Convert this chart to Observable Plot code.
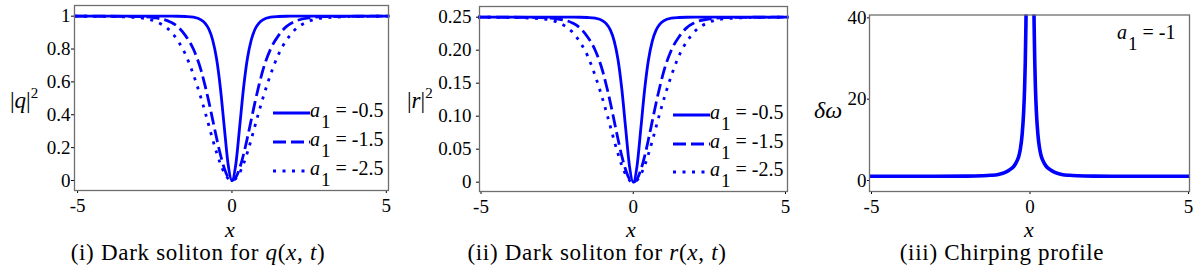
<!DOCTYPE html>
<html><head><meta charset="utf-8">
<script src="https://cdn.jsdelivr.net/npm/d3@7"></script>
<script src="https://cdn.jsdelivr.net/npm/@observablehq/plot@0.6"></script>
<style>
body{margin:0;background:#fff;}
#root{position:relative;width:1200px;height:272px;overflow:hidden;font-family:"Liberation Serif",serif;color:#000;background:#fff;}
#root svg, #root svg text{font-family:"Liberation Serif",serif !important;}
.pl{position:absolute;top:0;}
.t{position:absolute;white-space:nowrap;line-height:1;font-family:"Liberation Serif",serif;}
.i{font-style:italic;font-family:"Liberation Serif",serif;}
.cap{letter-spacing:0.7px;}
.leg{position:absolute;white-space:nowrap;font-size:20px;line-height:1;height:24px;font-family:"Liberation Serif",serif;}
.leg svg{vertical-align:top;}
.sub{position:relative;top:11px;font-size:19px;margin-left:1px;font-family:"Liberation Serif",serif;}
</style></head><body><div id="root"></div>
<script>
// ---- data ----
const xGrid = [-5.1,-4,-3,-2.5,-2,-1.75,-1.5,-1.25,-1,-0.875,-0.75,-0.625,-0.5,-0.375,-0.25,-0.125,0,0.125,0.25,0.375,0.5,0.625,0.75,0.875,1,1.25,1.5,1.75,2,2.5,3,4,5.1];
const qSolid  = [1,1,1,1,1,0.9996,0.998,0.994,0.978,0.958,0.922,0.855,0.742,0.563,0.327,0.099,0,0.099,0.327,0.563,0.742,0.855,0.922,0.958,0.978,0.994,0.998,0.9996,1,1,1,1,1];
const qDashed = [1,0.9995,0.997,0.99,0.965,0.935,0.88,0.80,0.67,0.58,0.48,0.37,0.26,0.158,0.075,0.019,0,0.019,0.075,0.158,0.26,0.37,0.48,0.58,0.67,0.80,0.88,0.935,0.965,0.99,0.997,0.9995,1];
const qDotted = [1,0.998,0.99,0.97,0.91,0.85,0.765,0.645,0.5,0.42,0.335,0.25,0.171,0.1015,0.047,0.012,0,0.012,0.047,0.1015,0.171,0.25,0.335,0.42,0.5,0.645,0.765,0.85,0.91,0.97,0.99,0.998,1];
const rSolid  = [0.25,0.25,0.25,0.25,0.25,0.2499,0.2495,0.2485,0.2445,0.2395,0.2305,0.2138,0.1855,0.1408,0.0818,0.0248,0,0.0248,0.0818,0.1408,0.1855,0.2138,0.2305,0.2395,0.2445,0.2485,0.2495,0.2499,0.25,0.25,0.25,0.25,0.25];
const rDashed = [0.25,0.2499,0.2493,0.2475,0.2413,0.2338,0.22,0.2,0.1675,0.145,0.12,0.0925,0.065,0.0395,0.0188,0.0048,0,0.0048,0.0188,0.0395,0.065,0.0925,0.12,0.145,0.1675,0.2,0.22,0.2338,0.2413,0.2475,0.2493,0.2499,0.25];
const rDotted = [0.25,0.2495,0.2475,0.2425,0.2275,0.2125,0.1913,0.1613,0.125,0.105,0.0838,0.0625,0.0428,0.0254,0.0118,0.003,0,0.003,0.0118,0.0254,0.0428,0.0625,0.0838,0.105,0.125,0.1613,0.1913,0.2125,0.2275,0.2425,0.2475,0.2495,0.25];
const chirpX = [-5.06,-4,-3,-2,-1.5,-1.25,-1,-0.8,-0.65,-0.5,-0.4,-0.35,-0.3,-0.25,-0.2,-0.17,-0.15,-0.13,-0.12,0.12,0.13,0.15,0.17,0.2,0.25,0.3,0.35,0.4,0.5,0.65,0.8,1,1.25,1.5,2,3,4,5.03];
const chirpY = [1.05,1.05,1.05,1.08,1.17,1.28,1.5,1.95,2.6,3.6,5.0,6.1,8.0,11.2,17.0,23,29,38,44,44,38,29,23,17.0,11.2,8.0,6.1,5.0,3.6,2.6,1.95,1.5,1.28,1.17,1.08,1.05,1.05,1.05];
const a1Values = ["-0.5","-1.5","-2.5"];
const chirpA1 = "-1";
const xTicks = [-5,0,5];
const qTicks = [0,0.2,0.4,0.6,0.8,1];
const qTickLabels = ["0","0.2","0.4","0.6","0.8","1"];
const rTicks = [0,0.05,0.1,0.15,0.2,0.25];
const rTickLabels = ["0","0.05","0.10","0.15","0.20","0.25"];
const wTicks = [0,20,40];
const wTickLabels = ["0","20","40"];
const captions = ["(i) Dark soliton for ", "(ii) Dark soliton for ", "(iii) Chirping profile"];

// ---- styles ----
const BLUE = "#0000ff";
const dashes = [null, "13,5", "3,6.5"];
const root = document.getElementById("root");

function rows(ys){ return xGrid.map((x,i)=>({x, y: ys[i]})); }

function makePlot(o){
  const fmt = new Map(o.yTicks.map((t,i)=>[t, o.yLabels[i]]));
  const svg = Plot.plot({
    width: 400, height: 272,
    marginLeft: o.m[0], marginRight: o.m[1], marginTop: o.m[2], marginBottom: o.m[3],
    x: {domain: o.xd, ticks: xTicks, tickFormat: d => String(d), tickSize: 3, tickPadding: 5, label: null},
    y: {domain: o.yd, ticks: o.yTicks, tickFormat: d => fmt.get(d), tickSize: o.yts, tickPadding: o.ytp, label: null},
    style: {fontFamily: "'Liberation Serif', serif", fontSize: "19px", background: "transparent", color: "#000", overflow: "visible"},
    marks: [...o.marks, Plot.frame({stroke: "#6e6e6e", strokeWidth: 1.3})]
  });
  svg.classList.add("pl");
  svg.style.left = o.left + "px";
  root.appendChild(svg);
}

function solitonMarks(arrs){
  return arrs.map((a,k)=>Plot.line(rows(a), {x:"x", y:"y", stroke: BLUE, strokeWidth: 2.8,
    strokeDasharray: dashes[k] || undefined, strokeLinecap: "butt", curve: "monotone-x"}));
}

makePlot({left:0, m:[74,12,5,82], xd:[-5.1,5.07], yd:[-0.061,1.065], yTicks:qTicks, yLabels:qTickLabels, yts:3, ytp:1,
  marks: solitonMarks([qSolid,qDashed,qDotted])});
makePlot({left:400, m:[79,13,6,81], xd:[-5.05,5.066], yd:[-0.0141,0.2662], yTicks:rTicks, yLabels:rTickLabels, yts:3, ytp:5,
  marks: solitonMarks([rSolid,rDashed,rDotted])});
const chirpRows = chirpX.map((x,i)=>({x, y: chirpY[i], branch: x < 0 ? "L" : "R"}));
makePlot({left:800, m:[69,11,14.5,81], xd:[-5.063,5.03], yd:[-2.7,40.7], yTicks:wTicks, yLabels:wTickLabels, yts:2, ytp:1,
  marks: [Plot.line(chirpRows, {x:"x", y:"y", z:"branch", stroke: BLUE, strokeWidth: 3.6, curve:"monotone-x", clip: true})]});

// ---- HTML text ----
function addText(html, left, top, size, cls){
  const d = document.createElement("div");
  d.className = "t" + (cls ? " " + cls : "");
  d.innerHTML = html;
  d.style.left = left + "px"; d.style.top = top + "px"; d.style.fontSize = size + "px";
  root.appendChild(d);
  return d;
}
function centered(html, cx, top, size, cls){
  const d = addText(html, cx, top, size, cls);
  d.style.transform = "translateX(-50%)";
}
// y titles
addText('|<span class="i">q</span>|<sup style="font-size:15px;position:relative;top:-3px;vertical-align:top">2</sup>', 10, 89, 23);
addText('|<span class="i">r</span>|<sup style="font-size:15px;position:relative;top:-3px;vertical-align:top">2</sup>', 407, 89, 23);
addText('<span class="i">δω</span>', 814, 98, 24);
// x titles
centered('<span class="i">x</span>', 230, 219, 22);
centered('<span class="i">x</span>', 631, 219, 22);
centered('<span class="i">x</span>', 1029, 219, 22);
// captions
centered(captions[0] + '<span class="i">q</span>(<span class="i">x</span>, <span class="i">t</span>)', 198, 241, 23, "cap");
centered(captions[1] + '<span class="i">r</span>(<span class="i">x</span>, <span class="i">t</span>)', 597, 241, 23, "cap");
centered(captions[2], 1002, 241, 23, "cap");

// legends
function legend(left, rowTops){
  a1Values.forEach((v,k)=>{
    const d = document.createElement("div");
    d.className = "leg";
    d.style.left = left + "px"; d.style.top = rowTops[k] + "px";
    const dash = dashes[k] ? ` stroke-dasharray="${dashes[k]}"` : "";
    d.innerHTML = `<svg width="37" height="24"><line x1="0" x2="37" y1="13" y2="13" stroke="${BLUE}" stroke-width="2.8"${dash}/></svg>` +
      `<span class="i">a</span><span class="sub">1</span>&nbsp;= ${v}`;
    root.appendChild(d);
  });
}
legend(273, [100, 129, 158]);
legend(673, [102, 131, 159]);
const ann = document.createElement("div");
ann.className = "leg";
ann.style.left = "1117px"; ann.style.top = "22px";
ann.innerHTML = `<span class="i">a</span><span class="sub">1</span>&nbsp;= ${chirpA1}`;
root.appendChild(ann);
</script>
</body></html>
